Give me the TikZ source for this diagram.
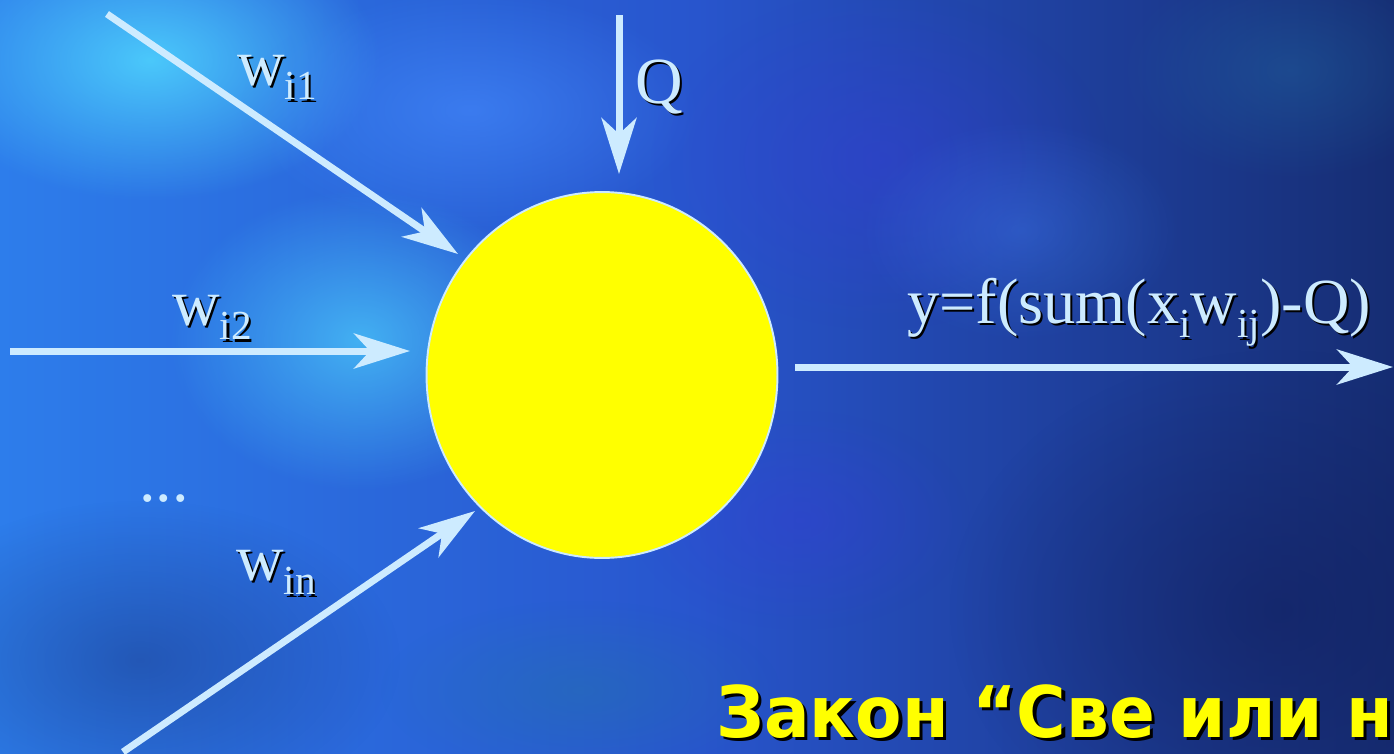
\documentclass[tikz,border=0pt]{standalone}
\usepackage{fontspec}
\setmainfont{Liberation Serif}
\newfontfamily\lawfont[FakeStretch=0.95]{DejaVu Sans}
\usetikzlibrary{arrows.meta,shapes.geometric,fadings}
\definecolor{bgleft}{RGB}{45,125,235}
\definecolor{bgmid}{RGB}{40,85,205}
\definecolor{bgright}{RGB}{22,45,115}
\definecolor{wirecol}{RGB}{205,235,255}
\definecolor{somayellow}{RGB}{255,255,0}
\definecolor{skycyan}{RGB}{80,215,255}
\definecolor{brightblue}{RGB}{70,140,255}
\definecolor{violetblue}{RGB}{55,60,215}
\definecolor{deepnavy}{RGB}{18,32,95}
\definecolor{tealish}{RGB}{35,115,170}
\tikzfading[name=blob, inner color=transparent!0, outer color=transparent!100]
\newcommand\lowsub[1]{\raisebox{-8.5pt}{\fontsize{23.5}{24}\selectfont #1}}
\newcommand\shadowed[3][1.2pt]{\leavevmode\rlap{\kern#1\raisebox{-#1}{\color{#2}#3}}#3}

\begin{document}
\begin{tikzpicture}[
  x=0.02cm, y=-0.02cm,
  neuron/.style={ellipse, draw=wirecol, line width=1.1pt, fill=somayellow,
                 minimum width=7.02cm, minimum height=7.32cm, inner sep=0pt},
  lbl/.style={anchor=base west, inner sep=0pt, text=wirecol,
              font=\fontsize{37.5}{40}\selectfont},
  lawtext/.style={anchor=base west, inner sep=0pt, text=somayellow,
                  font=\lawfont\bfseries\fontsize{40.5}{44}\selectfont},
  blobfill/.style={path fading=blob, fill opacity=#1},
  arr/.style={-{Stealth[length=1.12cm, width=0.7cm, inset=0.32cm]},
              line width=0.14cm, wirecol}
]
\useasboundingbox (0,0) rectangle (1394,754);
\clip (0,0) rectangle (1394,754);
\shade[left color=bgleft, right color=bgright, middle color=bgmid]
  (0,0) rectangle (1394,754);
\fill[skycyan, blobfill=0.85] (150,60) ellipse (230 and 140);
\fill[brightblue, blobfill=0.6] (470,110) ellipse (230 and 120);
\fill[skycyan, blobfill=0.65] (360,340) ellipse (190 and 150);
\fill[deepnavy, blobfill=0.35] (140,660) ellipse (260 and 160);
\fill[tealish, blobfill=0.45] (580,690) ellipse (200 and 90);
\fill[violetblue, blobfill=0.45] (880,160) ellipse (230 and 170);
\fill[brightblue, blobfill=0.3] (1020,230) ellipse (160 and 110);
\fill[violetblue, blobfill=0.4] (800,520) ellipse (170 and 110);
\fill[tealish, blobfill=0.35] (1290,70) ellipse (170 and 110);
\fill[deepnavy, blobfill=0.6] (1280,610) ellipse (330 and 260);

\node[neuron] (soma) at (602,375) {};
\coordinate (in1) at (107,14);
\coordinate (tip1) at (458,254);
\coordinate (in2) at (10,351);
\coordinate (tip2) at (410,351);
\coordinate (inn) at (123,752);
\coordinate (tipn) at (475,511);
\coordinate (thr) at (619,15);
\coordinate (thrtip) at (619,174);
\coordinate (outs) at (795,367);
\coordinate (oute) at (1393,367);

\node[lbl] (w1lab) at (237,85) {\shadowed{black}{w\lowsub{i1}}};
\node[lbl] (w2lab) at (172,325) {\shadowed{black}{w\lowsub{i2}}};
\node[lbl] (dots) at (139,501) {...};
\node[lbl] (wnlab) at (236,580) {\shadowed{black}{w\lowsub{in}}};
\node[lbl] (qlab) at (635,103) {\shadowed{black}{Q}};
\node[lbl, font=\fontsize{36.6}{40}\selectfont] (ylab) at (907,323)
  {\shadowed{black}{y=f(sum(x\lowsub{i}w\lowsub{ij})-Q)}};
\node[lawtext] (law) at (716,737)
  {\shadowed[1.8pt]{black}{Закон “Све или ништа”}};

\draw[arr] (in1) -- (tip1);
\draw[arr] (in2) -- (tip2);
\draw[arr] (inn) -- (tipn);
\draw[arr] (thr) -- (thrtip);
\draw[arr] (outs) -- (oute);
\end{tikzpicture}
\end{document}
